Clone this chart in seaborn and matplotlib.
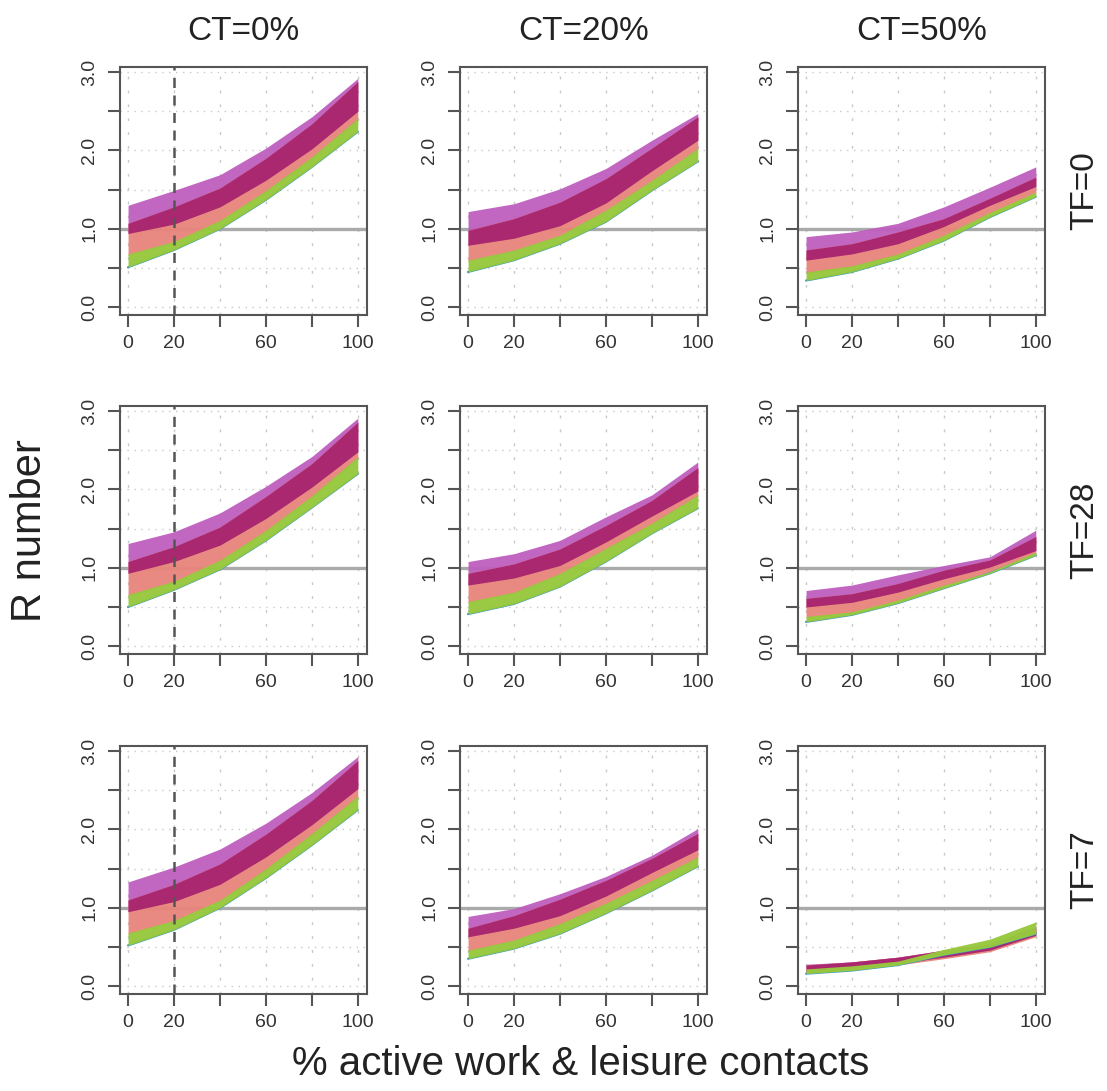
import numpy as np
import pandas as pd
import matplotlib
matplotlib.use("Agg")
import matplotlib.pyplot as plt
import seaborn as sns
from matplotlib import font_manager

# ---------------- data ----------------
x_pct = [0, 20, 40, 60, 80, 100]
ct_labels = ["CT=0%", "CT=20%", "CT=50%"]
tf_labels = ["TF=0", "TF=28", "TF=7"]
x_tick_vals = [0, 20, 40, 60, 80, 100]
x_tick_text = ["0", "20", "", "60", "", "100"]
y_tick_vals = [0.0, 0.5, 1.0, 1.5, 2.0, 2.5, 3.0]
y_tick_text = ["0.0", "", "1.0", "", "2.0", "", "3.0"]

# rows = TF (0, 28, 7); columns = CT (0%, 20%, 50%)
purple_hi = [
    [[1.30, 1.49, 1.69, 2.03, 2.43, 2.92], [1.22, 1.32, 1.51, 1.77, 2.13, 2.47], [0.90, 0.96, 1.07, 1.28, 1.53, 1.79]],
    [[1.31, 1.46, 1.70, 2.04, 2.42, 2.91], [1.08, 1.18, 1.35, 1.65, 1.93, 2.35], [0.71, 0.78, 0.91, 1.03, 1.14, 1.48]],
    [[1.33, 1.52, 1.75, 2.08, 2.47, 2.93], [0.89, 0.99, 1.18, 1.40, 1.67, 2.01], [0.28, 0.31, 0.37, 0.45, 0.53, 0.74]],
]
magenta_hi = [
    [[1.07, 1.28, 1.52, 1.90, 2.34, 2.88], [0.98, 1.13, 1.34, 1.64, 2.03, 2.43], [0.73, 0.81, 0.96, 1.13, 1.39, 1.66]],
    [[1.08, 1.27, 1.52, 1.91, 2.33, 2.86], [0.93, 1.05, 1.24, 1.54, 1.86, 2.28], [0.61, 0.67, 0.80, 0.97, 1.10, 1.40]],
    [[1.10, 1.30, 1.56, 1.94, 2.37, 2.88], [0.74, 0.90, 1.11, 1.35, 1.63, 1.95], [0.27, 0.31, 0.37, 0.46, 0.54, 0.76]],
]
magenta_lo = [
    [[0.94, 1.06, 1.28, 1.62, 2.02, 2.50], [0.79, 0.88, 1.04, 1.33, 1.74, 2.13], [0.60, 0.68, 0.81, 1.03, 1.30, 1.54]],
    [[0.93, 1.08, 1.29, 1.63, 2.03, 2.48], [0.78, 0.87, 1.03, 1.33, 1.66, 1.98], [0.50, 0.56, 0.69, 0.86, 1.01, 1.22]],
    [[0.95, 1.08, 1.30, 1.65, 2.06, 2.52], [0.63, 0.74, 0.90, 1.15, 1.45, 1.74], [0.18, 0.23, 0.29, 0.37, 0.46, 0.65]],
]
salmon_lo = [
    [[0.66, 0.82, 1.08, 1.46, 1.89, 2.38], [0.58, 0.71, 0.90, 1.22, 1.60, 2.01], [0.43, 0.51, 0.66, 0.90, 1.19, 1.45]],
    [[0.64, 0.81, 1.07, 1.45, 1.89, 2.39], [0.55, 0.67, 0.91, 1.23, 1.55, 1.91], [0.36, 0.42, 0.57, 0.76, 0.93, 1.18]],
    [[0.66, 0.82, 1.08, 1.47, 1.92, 2.40], [0.44, 0.57, 0.78, 1.04, 1.33, 1.63], [0.16, 0.21, 0.27, 0.35, 0.44, 0.63]],
]
green_hi = [
    [[0.68, 0.84, 1.11, 1.49, 1.92, 2.41], [0.60, 0.73, 0.92, 1.24, 1.62, 2.03], [0.45, 0.53, 0.68, 0.92, 1.21, 1.47]],
    [[0.66, 0.83, 1.10, 1.48, 1.92, 2.42], [0.57, 0.69, 0.93, 1.25, 1.57, 1.93], [0.38, 0.44, 0.59, 0.78, 0.95, 1.20]],
    [[0.68, 0.84, 1.10, 1.50, 1.95, 2.43], [0.46, 0.59, 0.80, 1.06, 1.35, 1.65], [0.22, 0.26, 0.32, 0.47, 0.60, 0.82]],
]
green_lo = [
    [[0.51, 0.73, 1.00, 1.37, 1.79, 2.24], [0.45, 0.60, 0.81, 1.09, 1.49, 1.86], [0.34, 0.45, 0.62, 0.85, 1.15, 1.41]],
    [[0.50, 0.72, 0.98, 1.35, 1.77, 2.20], [0.41, 0.54, 0.76, 1.08, 1.44, 1.76], [0.31, 0.40, 0.55, 0.74, 0.93, 1.16]],
    [[0.52, 0.72, 1.00, 1.38, 1.80, 2.25], [0.35, 0.48, 0.67, 0.93, 1.22, 1.53], [0.16, 0.20, 0.27, 0.40, 0.50, 0.67]],
]

# ---------------- style ----------------
sns.set_theme(style="white")
names = {f.name for f in font_manager.fontManager.ttflist}
fam = "Liberation Sans" if "Liberation Sans" in names else "DejaVu Sans"
plt.rcParams["font.family"] = [fam, "DejaVu Sans"]

C_PURPLE = "#BE5EBE"
C_MAGENTA = "#A6236F"
C_SALMON = "#E8847B"
C_GREEN = "#97C93D"
C_BLUE = "#3A9AC8"
AX_COL = "#555555"

W, H = 1107, 1091
fig = plt.figure(figsize=(W / 100, H / 100), dpi=100)

col_left_px = [120, 460, 798]
row_top_px = [67, 406, 746]
box_w, box_h = 247, 248

for r in range(3):
    for c in range(3):
        ax = fig.add_axes([col_left_px[c] / W, 1 - (row_top_px[r] + box_h) / H, box_w / W, box_h / H])
        ax.set_facecolor("white")
        # grid
        for yv in y_tick_vals:
            ax.axhline(yv, color="#C8C8C8", lw=1.0, ls=(0, (1, 4)), zorder=0)
        for xv in x_tick_vals:
            ax.axvline(xv, color="#C8C8C8", lw=1.0, ls=(0, (2, 8)), zorder=0)
        ax.axhline(1.0, color="#AAAAAA", lw=2.4, zorder=1)

        xs = np.array(x_pct)
        # bands
        ax.fill_between(xs, magenta_lo[r][c], purple_hi[r][c], color=C_PURPLE, alpha=0.95, lw=0, zorder=2)
        ax.fill_between(xs, salmon_lo[r][c], magenta_hi[r][c], color=C_SALMON, alpha=0.95, lw=0, zorder=3)
        ax.fill_between(xs, magenta_lo[r][c], magenta_hi[r][c], color=C_MAGENTA, alpha=0.95, lw=0, zorder=4)
        df_edge = pd.DataFrame({"x": x_pct, "y": green_lo[r][c]})
        sns.lineplot(data=df_edge, x="x", y="y", ax=ax, color=C_BLUE, lw=1.6, zorder=5)
        ax.fill_between(xs, green_lo[r][c], green_hi[r][c], color=C_GREEN, alpha=0.97, lw=0, zorder=6)

        if c == 0:
            ax.axvline(20, color="#555555", lw=1.8, ls=(0, (4, 3)), zorder=7)

        ax.set_xlim(-3.5, 104)
        ax.set_ylim(-0.1, 3.065)
        ax.set_xticks(x_tick_vals)
        ax.set_xticklabels(x_tick_text)
        ax.set_yticks(y_tick_vals)
        ax.set_yticklabels(y_tick_text, rotation=90, va="center")
        ax.tick_params(axis="both", direction="out", length=8.5, width=1.5, color=AX_COL,
                       labelsize=14, labelcolor="#333333", bottom=True, left=True)
        ax.tick_params(axis="x", pad=6)
        ax.tick_params(axis="y", pad=7)
        ax.set_xlabel("")
        ax.set_ylabel("")
        for s in ax.spines.values():
            s.set_visible(True)
            s.set_color(AX_COL)
            s.set_linewidth(1.5)

        if r == 0:
            fig.text((col_left_px[c] + box_w / 2) / W, 1 - 31 / H, ct_labels[c],
                     ha="center", va="center", fontsize=24, color="#222222")
        if c == 2:
            fig.text(1085 / W, 1 - (row_top_px[r] + box_h / 2) / H, tf_labels[r],
                     ha="center", va="center", rotation=90, fontsize=24, color="#222222")

fig.text(30 / W, 1 - 531 / H, "R number", rotation=90, ha="center", va="center",
         fontsize=30, color="#222222")
fig.text(581 / W, 1 - 1064 / H, "% active work & leisure contacts", ha="center", va="center",
         fontsize=29, color="#222222")

fig.savefig("out.png", dpi=100, facecolor="white")
